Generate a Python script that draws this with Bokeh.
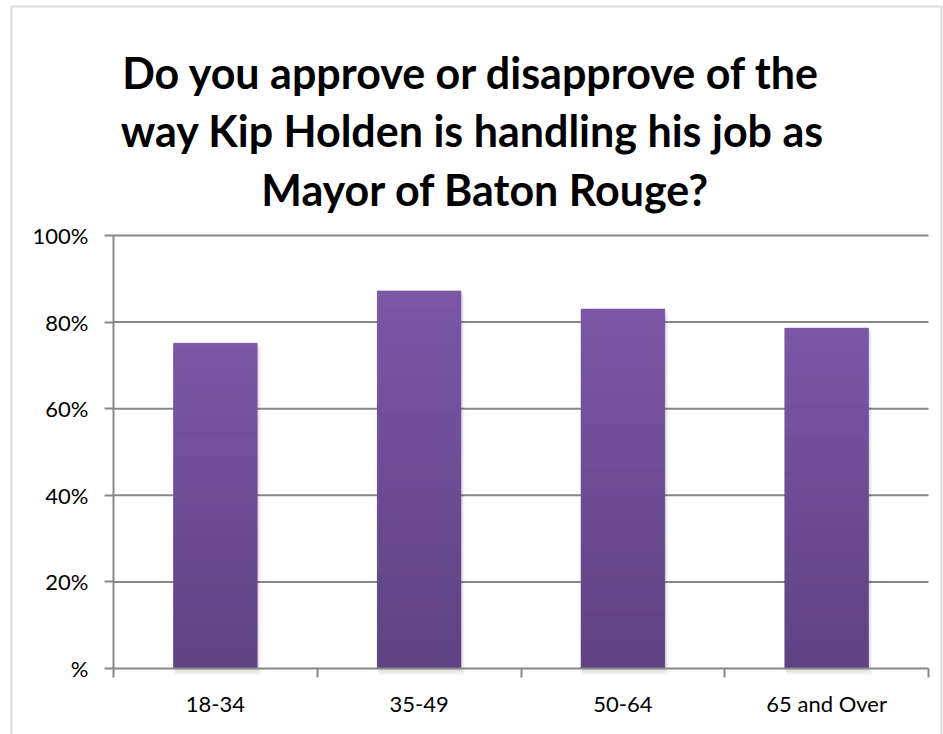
from bokeh.plotting import figure
from bokeh.models import FixedTicker, Range1d, Label, BoxAnnotation
from bokeh.embed import file_html
from bokeh.resources import INLINE

# ---- data ----
categories = ["18-34", "35-49", "50-64", "65 and Over"]
approve = [75.1, 87.2, 83.0, 78.6]
y_ticks = [0, 20, 40, 60, 80, 100]
y_tick_labels = ["%", "20%", "40%", "60%", "80%", "100%"]
title_lines = [
    "Do you approve or disapprove of the",
    "way Kip Holden is handling his job as",
    "Mayor of Baton Rouge?",
]

# ---- style / layout (pixels on the canvas) ----
GRAY = "#878787"
TOP_RGB = (0x7B, 0x57, 0xA6)
BOT_RGB = (0x5E, 0x42, 0x82)
BAR_W = 0.41
W, H = 943, 734
PL, PR, PT, PB = 113, 928, 235, 668   # plot area edges
Y_MAX = 100
NCAT = len(categories)
TITLE_CX = [471, 472, 485]            # title line centres
TITLE_BASE = [72, 130, 189]           # title line baselines


def px_x(px):
    return (px - PL) / (PR - PL) * NCAT


def px_y(py):
    return (PB - py) / (PB - PT) * Y_MAX


def mix(t):
    r = [round(b + (a - b) * t) for a, b in zip(TOP_RGB, BOT_RGB)]
    return "#%02x%02x%02x" % tuple(r)


p = figure(
    width=W, height=H, output_backend="svg", toolbar_location=None,
    x_range=Range1d(px_x(0), px_x(W)), y_range=Range1d(px_y(H), px_y(0)),
    min_border=0, min_border_left=0, min_border_right=0,
    min_border_top=0, min_border_bottom=0,
)
p.title = None
p.outline_line_color = None
p.background_fill_color = "white"
p.border_fill_color = "white"
p.xgrid.visible = False
p.ygrid.visible = False

# outer chart border (frame pixels, y measured upward)
p.add_layout(BoxAnnotation(
    left=11, right=941, top=H - 6, bottom=-20,
    left_units="screen", right_units="screen", top_units="screen", bottom_units="screen",
    fill_alpha=0, line_color=GRAY, line_width=2, level="overlay",
))

# title lines
for line, cx, base in zip(title_lines, TITLE_CX, TITLE_BASE):
    p.add_layout(Label(
        x=cx, y=H - base, x_units="screen", y_units="screen", text=line,
        text_align="center", text_baseline="alphabetic", text_font="Lato",
        text_font_size="43px", text_font_style="bold", text_color="black",
    ))

# horizontal gridlines across the plot area
grid_y = [t for t in y_ticks if t > 0]
p.segment(x0=[0] * len(grid_y), x1=[NCAT] * len(grid_y), y0=grid_y, y1=grid_y,
          line_color=GRAY, line_width=2)

xs = [i + 0.5 for i in range(NCAT)]

# soft shadow
for k, a in enumerate([0.05, 0.05, 0.04]):
    d = 0.004 * (k + 1)
    p.vbar(x=[x + d for x in xs], top=[v - 0.3 * (k + 1) for v in approve],
           bottom=-0.5 * (k + 1), width=BAR_W + d, fill_color="black",
           fill_alpha=a, line_color=None)

# bars (vertical gradient drawn as stacked slices of each bar)
p.vbar(x=xs, top=approve, bottom=0, width=BAR_W, fill_color=mix(0.5), line_color=None)
n = 40
sx, sb, st, sc = [], [], [], []
for i, v in enumerate(approve):
    for k in range(n):
        sx.append(i + 0.5)
        sb.append(v * k / n)
        st.append(v * (k + 1) / n)
        sc.append(mix((k + 0.5) / n))
p.vbar(x=sx, bottom=sb, top=st, width=BAR_W, fill_color=sc, line_color=sc, line_width=0.6)

# y axis
p.yaxis.fixed_location = 0
p.yaxis.bounds = (0, Y_MAX)
p.yaxis.ticker = FixedTicker(ticks=y_ticks)
p.yaxis.major_label_overrides = {t: l for t, l in zip(y_ticks, y_tick_labels)}
p.yaxis.axis_line_color = GRAY
p.yaxis.axis_line_width = 2
p.yaxis.major_tick_line_color = GRAY
p.yaxis.major_tick_line_width = 2
p.yaxis.major_tick_out = 9
p.yaxis.major_tick_in = 0
p.yaxis.minor_tick_line_color = None
p.yaxis.major_label_text_font = "Lato"
p.yaxis.major_label_text_font_size = "22px"
p.yaxis.major_label_text_color = "black"
p.yaxis.major_label_standoff = 16

# x axis
p.xaxis.fixed_location = 0
p.xaxis.bounds = (0, NCAT)
p.xaxis.ticker = FixedTicker(ticks=xs, minor_ticks=list(range(NCAT + 1)))
p.xaxis.major_label_overrides = {x: c for x, c in zip(xs, categories)}
p.xaxis.axis_line_color = GRAY
p.xaxis.axis_line_width = 2
p.xaxis.major_tick_line_color = None
p.xaxis.minor_tick_line_color = GRAY
p.xaxis.minor_tick_line_width = 2
p.xaxis.minor_tick_out = 9
p.xaxis.minor_tick_in = 0
p.xaxis.major_label_text_font = "Lato"
p.xaxis.major_label_text_font_size = "22px"
p.xaxis.major_label_text_color = "black"
p.xaxis.major_label_standoff = 12

open("out.html", "w").write(file_html(p, INLINE))
